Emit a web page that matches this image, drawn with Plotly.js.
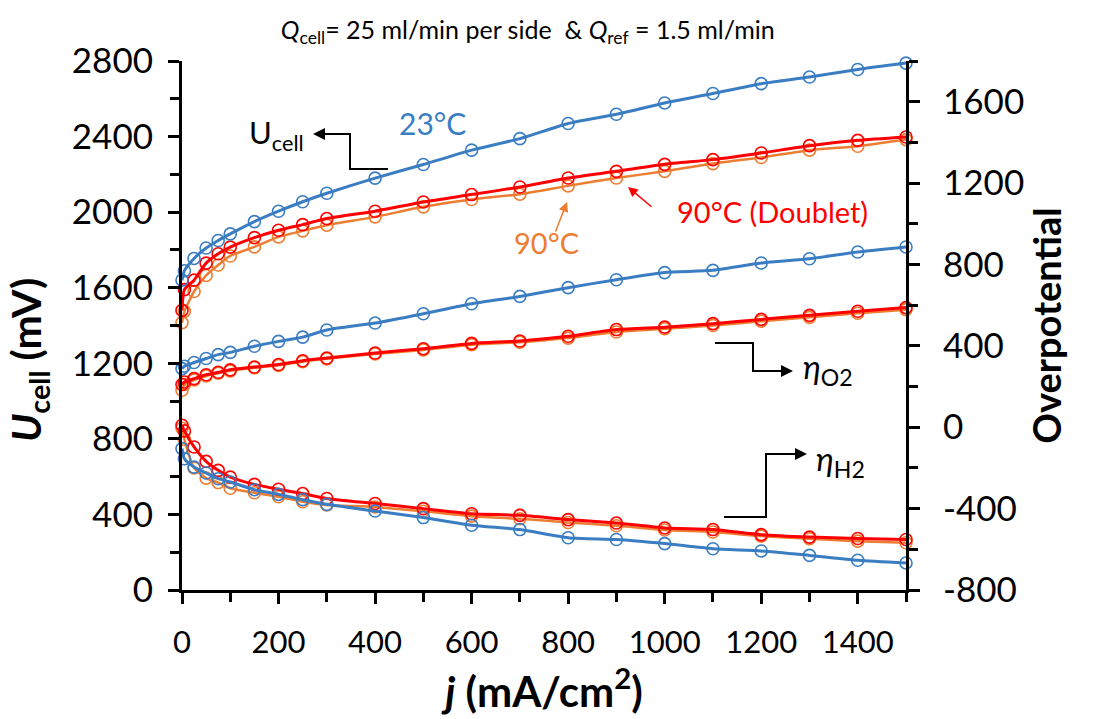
<!DOCTYPE html>
<html>
<head>
<meta charset="utf-8">
<script src="https://cdn.plot.ly/plotly-3.0.1.min.js"></script>
<style>
  html, body { margin: 0; padding: 0; background: #fff; }
  #chart { width: 1095px; height: 719px; }
</style>
</head>
<body>
<div id="chart"></div>
<script>
// current density j (mA/cm2)
const j = [0, 5, 25, 50, 75, 100, 150, 200, 250, 300, 400, 500, 600, 700, 800, 900, 1000, 1100, 1200, 1300, 1400, 1500];

// cell voltage (mV), left axis
const uCell23 = [1640, 1690, 1755, 1810, 1850, 1885, 1950, 2005, 2055, 2100, 2180, 2252, 2328, 2389, 2469, 2518, 2578, 2628, 2680, 2715, 2755, 2789];
const uCell90D = [1480, 1590, 1640, 1730, 1780, 1815, 1865, 1904, 1934, 1966, 2005, 2054, 2093, 2133, 2181, 2216, 2253, 2278, 2313, 2352, 2380, 2398];
const uCell90 = [1415, 1475, 1580, 1665, 1720, 1768, 1816, 1869, 1901, 1931, 1975, 2028, 2067, 2095, 2139, 2181, 2216, 2257, 2289, 2328, 2349, 2384];

// overpotentials (mV), right axis
const etaO2_23 = [288, 300, 318, 338, 357, 368, 398, 422, 443, 478, 512, 558, 607, 643, 686, 725, 760, 771, 807, 828, 861, 886];
const etaO2_90D = [210, 222, 239, 258, 270, 282, 296, 308, 327, 340, 365, 386, 412, 424, 447, 480, 492, 509, 530, 550, 570, 588];
const etaO2_90 = [182, 210, 232, 252, 265, 277, 292, 304, 322, 336, 360, 380, 406, 418, 438, 468, 484, 500, 521, 540, 560, 578];

const etaH2_23 = [-105, -155, -196, -225, -253, -269, -307, -330, -356, -379, -412, -444, -482, -503, -543, -552, -572, -597, -608, -630, -654, -667];
const etaH2_90D = [10, -18, -97, -168, -212, -245, -281, -305, -326, -350, -375, -400, -425, -433, -454, -471, -495, -503, -528, -540, -547, -552];
const etaH2_90 = [-5, -60, -200, -250, -272, -300, -322, -342, -366, -382, -392, -413, -437, -450, -468, -484, -505, -515, -535, -548, -560, -568];

// right axis labels (plain hyphen as in the original)
const etaTicks = [-800, -400, 0, 400, 800, 1200, 1600];
const etaTickText = ['-800', '-400', '0', '400', '800', '1200', '1600'];

const BLUE = '#3a7dc2', RED = '#ff0000', ORANGE = '#ed7d31';
const FONT = 'Lato, "Open Sans", sans-serif';

function series(y, color, width, axis){
  return {
    type: 'scatter', mode: 'lines+markers', x: j, y: y, yaxis: axis, cliponaxis: false,
    line: { color: color, width: width, shape: 'spline', smoothing: 0.6 },
    marker: { symbol: 'circle-open', size: 12, color: color, line: { width: 1.6, color: color } },
    showlegend: false, hoverinfo: 'x+y'
  };
}

const traces = [
  series(uCell90, ORANGE, 2.5, 'y'),
  series(etaO2_90, ORANGE, 2.5, 'y2'),
  series(etaH2_90, ORANGE, 2.5, 'y2'),
  series(uCell90D, RED, 3, 'y'),
  series(etaO2_90D, RED, 3, 'y2'),
  series(etaH2_90D, RED, 3, 'y2'),
  series(uCell23, BLUE, 3, 'y'),
  series(etaO2_23, BLUE, 3, 'y2'),
  series(etaH2_23, BLUE, 3, 'y2')
];

const axisCommon = {
  showline: true, linecolor: '#000', linewidth: 3, mirror: false,
  ticks: 'outside', tickcolor: '#000', tickwidth: 3, ticklen: 11,
  showgrid: false, zeroline: false,
  minor: { ticks: 'outside', tickcolor: '#000', tickwidth: 3, ticklen: 9 }
};

// helper: page pixel -> paper coords (plot area 182..906 x 61..590)
const px = v => (v - 182) / 724;
const py = v => (590 - v) / 529;
const LINE = { color: '#000', width: 2 };

function label(x, y, text, size, color){
  return { xref: 'paper', yref: 'paper', x: px(x), y: py(y), xanchor: 'center', yanchor: 'middle',
           text: text, showarrow: false, font: { size: size, color: color, family: FONT } };
}
function pointer(x, y, ax, ay, color, width, size){
  return { xref: 'paper', yref: 'paper', x: px(x), y: py(y), ax: ax, ay: ay, text: '', showarrow: true,
           arrowhead: 2, arrowsize: size, arrowwidth: width, arrowcolor: color };
}

// left axis title sits a bit below the middle of the axis, so it is an annotation
const uTitle = label(28, 360, '<b><i>U</i><sub>cell</sub> (mV)</b>', 41, '#000');
uTitle.textangle = -90;

const layout = {
  width: 1095, height: 719,
  margin: { l: 182, r: 189, t: 61, b: 129 },
  paper_bgcolor: '#fff', plot_bgcolor: '#fff',
  font: { family: FONT, color: '#000' },
  title: {
    text: '<i>Q</i><sub>cell</sub>= 25 ml/min per side &nbsp;&amp; <i>Q</i><sub>ref</sub> = 1.5 ml/min',
    font: { size: 25, family: FONT }, x: 0.482, xanchor: 'center', y: 0.958, yanchor: 'middle'
  },
  xaxis: Object.assign({}, axisCommon, {
    range: [0, 1500], dtick: 200, tick0: 0,
    minor: Object.assign({}, axisCommon.minor, { dtick: 100 }),
    tickfont: { size: 31, family: FONT }, ticklabelstandoff: 12,
    title: { text: '<b><i>j</i> (mA/cm<sup>2</sup>)</b>', font: { size: 42, family: FONT }, standoff: 4 }
  }),
  yaxis: Object.assign({}, axisCommon, {
    range: [0, 2800], dtick: 400, tick0: 0,
    minor: Object.assign({}, axisCommon.minor, { dtick: 200 }),
    tickfont: { size: 35, family: FONT }, ticklabelstandoff: 8
  }),
  yaxis2: Object.assign({}, axisCommon, {
    overlaying: 'y', side: 'right', anchor: 'x',
    range: [-800, 1800], tickmode: 'array', tickvals: etaTicks, ticktext: etaTickText,
    minor: Object.assign({}, axisCommon.minor, { dtick: 200, tick0: 0 }),
    tickfont: { size: 35, family: FONT }, ticklabelstandoff: 16,
    title: { text: '<b>Overpotential</b>', font: { size: 38, family: FONT }, standoff: 12 }
  }),
  shapes: [
    { type: 'path', xref: 'paper', yref: 'paper', line: LINE,
      path: `M ${px(388)},${py(169)} L ${px(350)},${py(169)} L ${px(350)},${py(134)} L ${px(322)},${py(134)}` },
    { type: 'path', xref: 'paper', yref: 'paper', line: LINE,
      path: `M ${px(715)},${py(343)} L ${px(753)},${py(343)} L ${px(753)},${py(371)} L ${px(782)},${py(371)}` },
    { type: 'path', xref: 'paper', yref: 'paper', line: LINE,
      path: `M ${px(724)},${py(517)} L ${px(766)},${py(517)} L ${px(766)},${py(454)} L ${px(796)},${py(454)}` }
  ],
  annotations: [
    uTitle,
    label(432, 123, '23°C', 30, BLUE),
    label(276, 134, 'U<sub>cell</sub>', 31, '#000'),
    label(772, 212, '90°C (Doublet)', 29, RED),
    label(546, 243, '90°C', 29, ORANGE),
    label(828, 368, '<i>η</i><sub>O2</sub>', 33, '#000'),
    label(840, 460, '<i>η</i><sub>H2</sub>', 33, '#000'),
    pointer(313, 134, 12, 0, '#000', 2, 1.2),
    pointer(793, 371, -12, 0, '#000', 2, 1.2),
    pointer(807, 454, -12, 0, '#000', 2, 1.2),
    pointer(628, 187, 25, 21, RED, 1.5, 1.3),
    pointer(567, 202, -12, 31, ORANGE, 1.5, 1.3)
  ]
};

Plotly.newPlot('chart', traces, layout, { displayModeBar: false, staticPlot: true });
</script>
</body>
</html>
